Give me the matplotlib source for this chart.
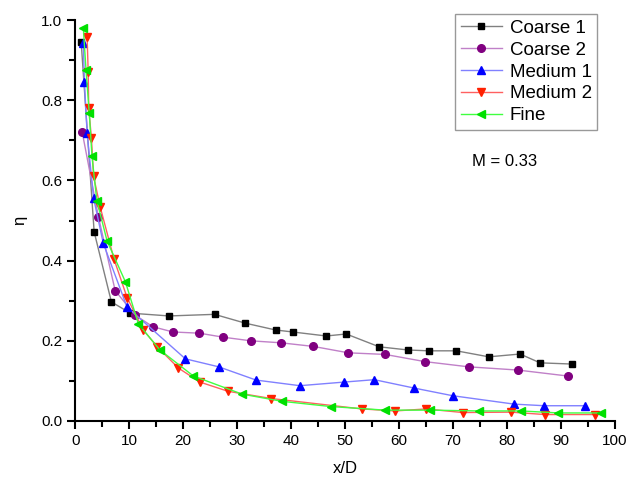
import matplotlib
matplotlib.use("Agg")
import matplotlib.pyplot as plt
from matplotlib.ticker import MultipleLocator

# values (x/D, eta)
coarse1_x = [1.1, 3.5, 6.7, 10.2, 17.4, 25.8, 31.5, 37.1, 40.3, 46.5, 50.2, 56.3, 61.7, 65.5, 70.6, 76.6, 82.4, 86.1, 92.0]
coarse1_y = [0.945, 0.472, 0.297, 0.269, 0.262, 0.266, 0.244, 0.227, 0.222, 0.212, 0.217, 0.185, 0.177, 0.175, 0.175, 0.160, 0.167, 0.145, 0.142]

coarse2_x = [1.3, 4.3, 7.4, 11.1, 14.4, 18.1, 23.0, 27.4, 32.5, 38.1, 44.1, 50.6, 57.4, 64.8, 72.9, 82.0, 91.3]
coarse2_y = [0.720, 0.509, 0.325, 0.264, 0.235, 0.222, 0.219, 0.209, 0.200, 0.195, 0.186, 0.170, 0.166, 0.148, 0.135, 0.127, 0.112]

medium1_x = [1.5, 1.7, 2.2, 3.4, 5.2, 9.6, 20.4, 26.6, 33.5, 41.6, 49.8, 55.4, 62.8, 69.9, 81.3, 86.9, 94.4]
medium1_y = [0.944, 0.845, 0.718, 0.556, 0.443, 0.284, 0.155, 0.135, 0.102, 0.088, 0.097, 0.103, 0.082, 0.063, 0.042, 0.038, 0.038]

medium2_x = [2.2, 2.4, 2.5, 3.0, 3.4, 4.6, 7.2, 9.6, 12.6, 15.2, 19.1, 23.1, 28.3, 36.3, 53.1, 59.3, 65.0, 71.8, 80.7, 87.0, 96.3]
medium2_y = [0.958, 0.870, 0.780, 0.705, 0.610, 0.535, 0.403, 0.308, 0.227, 0.185, 0.132, 0.097, 0.074, 0.056, 0.030, 0.025, 0.030, 0.021, 0.022, 0.016, 0.016]

fine_x = [1.5, 2.0, 2.6, 3.1, 4.0, 5.9, 9.3, 11.7, 15.7, 21.9, 30.9, 38.3, 47.3, 57.4, 65.7, 74.8, 82.6, 89.5, 97.4]
fine_y = [0.980, 0.875, 0.768, 0.660, 0.550, 0.449, 0.347, 0.242, 0.177, 0.112, 0.067, 0.049, 0.036, 0.027, 0.027, 0.025, 0.025, 0.020, 0.020]

plt.rcParams["font.family"] = ["Liberation Sans", "DejaVu Sans"]

fig = plt.figure(figsize=(6.27, 4.8), dpi=100)
ax = fig.add_axes([0.12, 0.123, 0.861, 0.835])

ax.plot(coarse1_x, coarse1_y, color="#808080", lw=1, marker="s", ms=5,
        mfc="black", mec="black", label="Coarse 1")
ax.plot(coarse2_x, coarse2_y, color="#c080c8", lw=1, marker="o", ms=5.5,
        mfc="#800080", mec="#800080", label="Coarse 2")
ax.plot(medium1_x, medium1_y, color="#8080ff", lw=1, marker="^", ms=6,
        mfc="#0000ff", mec="#0000ff", label="Medium 1")
ax.plot(medium2_x, medium2_y, color="#ff6060", lw=1, marker="v", ms=6,
        mfc="#ff2000", mec="#ff2000", label="Medium 2")
ax.plot(fine_x, fine_y, color="#40ff40", lw=1, marker="<", ms=6,
        mfc="#00e000", mec="#00e000", label="Fine")

ax.set_xlim(0, 100)
ax.set_ylim(0, 1.0)
ax.xaxis.set_major_locator(MultipleLocator(10))
ax.xaxis.set_minor_locator(MultipleLocator(5))
ax.yaxis.set_major_locator(MultipleLocator(0.2))
ax.yaxis.set_minor_locator(MultipleLocator(0.1))
ax.yaxis.set_major_formatter(matplotlib.ticker.FormatStrFormatter("%.1f"))
ax.tick_params(which="both", direction="out", width=1.5, labelsize=11)
ax.tick_params(which="major", length=6)
ax.tick_params(which="minor", length=4)
for side in ["top", "right"]:
    ax.spines[side].set_visible(False)
for side in ["left", "bottom"]:
    ax.spines[side].set_linewidth(1.5)

ax.set_xlabel("x/D", fontsize=12, labelpad=9)
ax.set_ylabel("η", fontsize=12, labelpad=10)

leg = ax.legend(loc="upper right", bbox_to_anchor=(0.967, 1.015), borderaxespad=0,
                fontsize=13.5, frameon=True, fancybox=False, edgecolor="#808080",
                handlelength=2.2, handletextpad=0.4, labelspacing=0.25,
                borderpad=0.3)
leg.get_frame().set_linewidth(1)

ax.text(0.735, 0.635, "M = 0.33", transform=ax.transAxes, fontsize=12)

fig.savefig("out.png", dpi=100)
